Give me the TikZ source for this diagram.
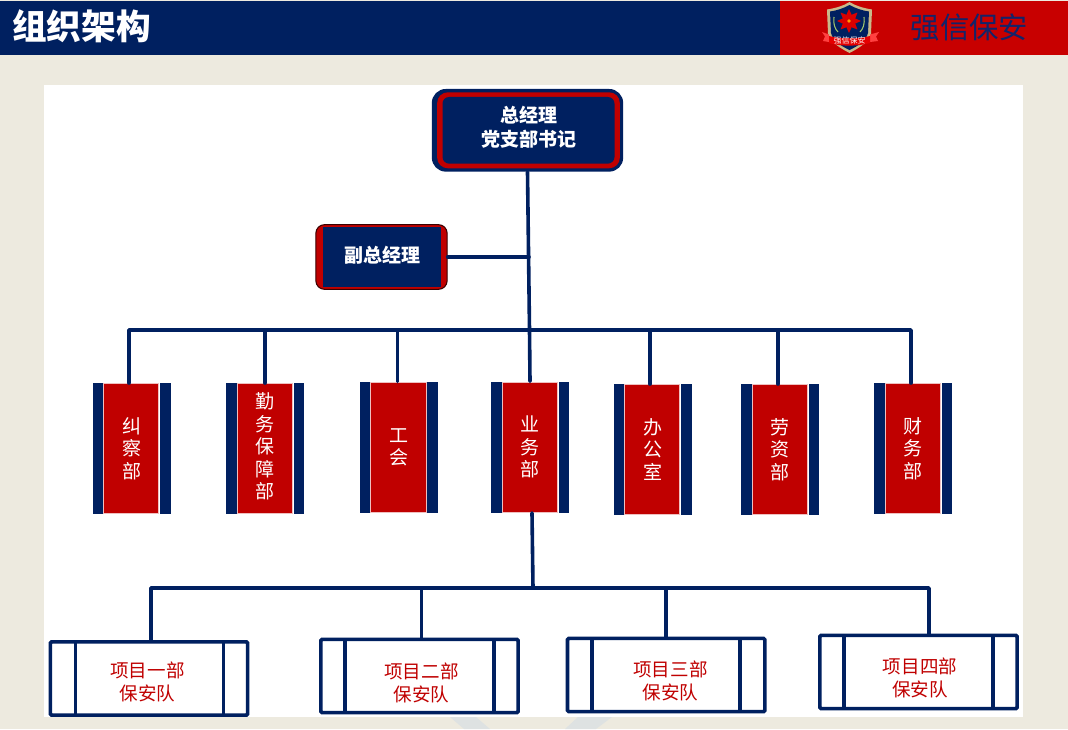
\documentclass[tikz,border=0pt]{standalone}
\usepackage{fontspec}
\setmainfont{Noto Sans CJK SC}
\definecolor{navy}{HTML}{002060}
\definecolor{crimson}{HTML}{C00000}
\definecolor{hdrred}{HTML}{C80000}
\definecolor{paper}{HTML}{EDEADF}
\definecolor{brand}{HTML}{12246A}
\definecolor{shieldgold}{HTML}{C9B98A}
\definecolor{ghost}{HTML}{DEE2E2}
\tikzset{
  x=0.75pt,y=-0.75pt,
  wire/.style={draw=navy,line width=2.7pt,line cap=round,line join=round},
  bossouter/.style={draw=none,fill=navy,rounded corners=10.5pt,minimum width=143.5pt,minimum height=62pt,inner sep=0pt},
  bossring/.style={draw=none,fill=crimson,rounded corners=8pt,minimum width=137pt,minimum height=57pt,inner sep=0pt},
  bossinner/.style={draw=none,fill=navy,rounded corners=5pt,minimum width=129pt,minimum height=50pt,inner sep=0pt},
  bosstext/.style={text=white,font=\fontsize{14.25}{18}\selectfont\bfseries,align=center,inner sep=0pt},
  viceouter/.style={draw=black!70!crimson,line width=0.8pt,fill=crimson,rounded corners=6.5pt,minimum width=98.5pt,minimum height=48.5pt,inner sep=0pt},
  viceinner/.style={draw=none,fill=navy,minimum width=88pt,minimum height=44.5pt,inner sep=0pt},
  deptbar/.style={draw=none,fill=navy,minimum width=58.5pt,minimum height=98.25pt,inner sep=0pt},
  deptcore/.style={draw=white!75!crimson,line width=0.5pt,fill=crimson,minimum width=41.5pt,minimum height=97.5pt,inner sep=0pt},
  depttext/.style={text=white,align=center,font=\fontsize{14.25}{16.9}\selectfont,inner sep=0pt},
  projbox/.style={draw=navy,line width=2.7pt,fill=white,rounded corners=1pt,minimum width=148pt,minimum height=55pt,inner sep=0pt},
  projtext/.style={text=crimson,align=center,font=\fontsize{13.9}{17.25}\selectfont,inner sep=0pt},
  projrule/.style={draw=navy,line width=2.7pt},
}
\newcommand{\dept}[5]{% name cx cy texty text
  \node[deptbar] (#1b) at (#2,#3) {};
  \fill[white] (#2-28.5,#3-66) rectangle (#2+28.5,#3+66);
  \node[deptcore] (#1) at (#2-0.5,#3) {};
  \node[depttext] (#1t) at (#2,#4) {#5};
}
\newcommand{\proj}[8]{% name cx cy left right textx texty text
  \node[projbox] (#1) at (#2,#3) {};
  \draw[projrule] (#4,#3-37) -- (#4,#3+37);
  \draw[projrule] (#5,#3-37) -- (#5,#3+37);
  \node[projtext] (#1t) at (#6,#7) {#8};
}
\begin{document}
\begin{tikzpicture}
\useasboundingbox (0,0) rectangle (1068,729);
% page
\fill[paper] (0,0) rectangle (1068,729);
\fill[ghost] (450,717) -- (476,717) -- (490,729) -- (464,729) -- cycle;
\fill[ghost] (565,729) -- (578,717) -- (612,717) -- (596,729) -- cycle;
\fill[white] (44,85) rectangle (1023,717);
% header
\fill[navy] (0,1) rectangle (780,54.5);
\fill[hdrred] (780,1) rectangle (1068,54.5);
\node[text=white,font=\fontsize{26}{30}\selectfont\bfseries,anchor=west,inner sep=0pt] (title) at (12,26) {组织架构};
\node[text=brand,font=\fontsize{22}{26}\selectfont,anchor=center,inner sep=0pt] (brandname) at (969.5,27.5) {强信保安};
% logo
\fill[shieldgold] (849.5,2) .. controls (843,6) and (836,8) .. (827,9.5) -- (828,34) .. controls (830,42) and (840,48) .. (849.5,53) .. controls (859,48) and (869,42) .. (871,34) -- (872,9.5) .. controls (863,8) and (856,6) .. (849.5,2) -- cycle;
\fill[navy] (849.5,5) .. controls (843,8.5) and (837,10.5) .. (830,11.5) -- (831,33) .. controls (833,41) and (841,46) .. (849.5,50) .. controls (858,46) and (866,41) .. (868,33) -- (869,11.5) .. controls (862,10.5) and (856,8.5) .. (849.5,5) -- cycle;
\foreach \a in {0,45,...,315}
  \fill[red!85!black,rotate around={\a:(849,21)}] (849,9) -- (853.5,19) -- (849,23) -- (844.5,19) -- cycle;
\fill[orange!80!yellow] (849,21) circle[radius=1.8];
\draw[shieldgold!80!green,line width=0.8pt] (834,17) .. controls (833,24) and (835,29) .. (838,32);
\draw[shieldgold!80!green,line width=0.8pt] (864,17) .. controls (865,24) and (863,29) .. (860,32);
\fill[red!75!white] (822,32) -- (829,34.5) -- (829,42) -- (823,41) -- (825,36.5) -- cycle;
\fill[red!75!white] (879,32) -- (870,34.5) -- (870,42) -- (878,41) -- (876,36.5) -- cycle;
\fill[red!90!black] (829,36) .. controls (840,39) and (858,39) .. (870,36) -- (870,43) .. controls (858,46.5) and (840,46.5) .. (829,43) -- cycle;
\node[text=white,font=\fontsize{6}{7}\selectfont,inner sep=0pt] (logotext) at (849.5,40.5) {强信保安};
% top
\node[bossouter] (gmo) at (527.5,130.3) {};
\node[bossring] (gmr) at (528.5,130.3) {};
\node[bossinner] (gm) at (528.5,130.3) {};
\node[bosstext] (gmt) at (528.5,127) {总经理\\党支部书记};
% deputy
\node[viceouter] (vpo) at (381.5,257) {};
\node[viceinner] (vp) at (382,257) {};
\node[bosstext] (vpt) at (382,255) {副总经理};
% departments
\dept{d1}{131.5}{448.5}{448.5}{纠\\察\\部}
\dept{d2}{265.2}{448.5}{446.5}{勤\\务\\保\\障\\部}
\dept{d3}{398.7}{447.2}{447.2}{工\\会}
\dept{d4}{530}{447}{447}{业\\务\\部}
\dept{d5}{652.5}{449.5}{449.5}{办\\公\\室}
\dept{d6}{780}{449.5}{449.5}{劳\\资\\部}
\dept{d7}{913}{448.5}{448.5}{财\\务\\部}
% projects
\proj{p1}{149}{678.5}{75.5}{223.5}{147.5}{681.5}{项目一部\\保安队}
\proj{p2}{419.5}{676}{345}{494}{421.5}{683}{项目二部\\保安队}
\proj{p3}{666.2}{675}{592}{740}{670.5}{680.5}{项目三部\\保安队}
\proj{p4}{918.5}{672}{844}{993}{920}{677.5}{项目四部\\保安队}
% connectors
\coordinate (hubA) at (529.5,330);
\coordinate (hubV) at (529,257);
\coordinate (hubB) at (533,588);
\coordinate (d1top) at (129,383);
\coordinate (d2top) at (265,383);
\coordinate (d3top) at (397.5,381.5);
\coordinate (d4bot) at (532,513);
\coordinate (d5top) at (650,384);
\coordinate (d6top) at (778,384);
\coordinate (d7top) at (911,383);
\coordinate (p1top) at (151,641);
\coordinate (p2top) at (421.5,639);
\coordinate (p4top) at (929,635);
\draw[wire] (gmo.south) -- (hubA);
\draw[wire] (vpo.east) -- (hubV);
\draw[wire] (d1top) |- (hubA);
\draw[wire] (d7top) |- (hubA);
\draw[wire] (d2top) -- (d2top |- hubA);
\draw[wire] (d3top) -- (d3top |- hubA);
\draw[wire] (hubA) -- (d4b.north);
\draw[wire] (d5top) -- (d5top |- hubA);
\draw[wire] (d6top) -- (d6top |- hubA);
\draw[wire] (d4bot) -- (hubB);
\draw[wire] (p1top) |- (hubB);
\draw[wire] (p4top) |- (hubB);
\draw[wire] (p2top) -- (p2top |- hubB);
\draw[wire] (p3.north) -- (p3.north |- hubB);
\end{tikzpicture}
\end{document}
